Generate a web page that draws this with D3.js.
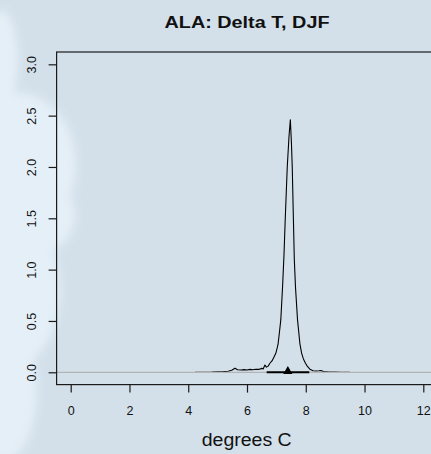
<!DOCTYPE html>
<html>
<head>
<meta charset="utf-8">
<script src="https://cdn.jsdelivr.net/npm/d3@7"></script>
<style>
  html, body { margin: 0; padding: 0; background: #d3e0ea; overflow: hidden; }
  svg { display: block; font-family: "Liberation Sans", Arial, sans-serif; }
</style>
</head>
<body>
<div id="chart"></div>
<script>
// density of delta T (DJF)
const densX = [4.23, 4.5, 4.8, 5.0, 5.2, 5.36, 5.48, 5.59, 5.68, 5.8, 5.9, 6.0, 6.1, 6.2, 6.3, 6.4, 6.5, 6.55,
  6.61, 6.66, 6.72, 6.78, 6.85, 6.92, 6.98, 7.03, 7.06, 7.1, 7.15, 7.21, 7.26, 7.30, 7.37, 7.43, 7.475,
  7.51, 7.54, 7.58, 7.61, 7.65, 7.72, 7.80, 7.86, 7.92, 7.99, 8.05, 8.14, 8.25, 8.35, 8.45, 8.52, 8.6,
  8.8, 9.0, 9.2, 9.5];
const densY = [0, 0.001, 0.002, 0.004, 0.006, 0.01, 0.02, 0.04, 0.025, 0.022, 0.026, 0.022, 0.028, 0.024, 0.03, 0.028, 0.038, 0.033,
  0.07, 0.05, 0.06, 0.088, 0.11, 0.15, 0.185, 0.24, 0.28, 0.38, 0.51, 0.83, 1.15, 1.48, 2.0, 2.3, 2.46,
  2.25, 2.0, 1.48, 1.1, 0.83, 0.51, 0.28, 0.185, 0.13, 0.088, 0.06, 0.03, 0.015, 0.012, 0.015, 0.018, 0.008,
  0.003, 0.002, 0.001, 0];

const rangeLo = 6.67;   // interval shown under the peak
const rangeHi = 8.12;
const centre = 7.39;    // triangle marker

const xTicks = [0, 2, 4, 6, 8, 10, 12];
const yTicks = [0, 0.5, 1, 1.5, 2, 2.5, 3];

const title = 'ALA: Delta T, DJF';
const xLabel = 'degrees C';

const W = 431, H = 454;
const plot = { left: 56.6, right: 437.4, top: 52, bottom: 384.6 };

const svg = d3.select('#chart').append('svg')
  .attr('width', W)
  .attr('height', H);

// background with a soft light cloud on the left
const defs = svg.append('defs');
defs.append('filter').attr('id', 'blur')
  .attr('x', '-50%').attr('y', '-50%').attr('width', '200%').attr('height', '200%')
  .append('feGaussianBlur').attr('stdDeviation', 5);

svg.append('rect').attr('width', W).attr('height', H).attr('fill', '#d3e0ea');
const cloud = svg.append('g').attr('filter', 'url(#blur)').attr('fill', '#e5eff7');
[[18, 165, 58, 72], [35, 215, 40, 40], [15, 290, 45, 75], [5, 390, 32, 70], [0, 60, 18, 50]].forEach(([cx, cy, rx, ry]) => {
  cloud.append('ellipse').attr('cx', cx).attr('cy', cy).attr('rx', rx).attr('ry', ry);
});

const x = d3.scaleLinear().domain([-0.48, 12.48]).range([plot.left, plot.right]);
const y = d3.scaleLinear().domain([-0.12, 3.12]).range([plot.bottom, plot.top]);

// density curve
const pts = densX.map((v, i) => [v, densY[i]]);
svg.append('path')
  .datum(pts)
  .attr('fill', 'none')
  .attr('stroke', '#000')
  .attr('stroke-width', 1.1)
  .attr('stroke-linejoin', 'round')
  .attr('d', d3.line().x(d => x(d[0])).y(d => y(d[1])));

// zero line, drawn over the curve tails
svg.append('line')
  .attr('x1', plot.left).attr('x2', plot.right)
  .attr('y1', y(0)).attr('y2', y(0))
  .attr('stroke', '#b4b4b4').attr('stroke-width', 1.2);

// interval segment and marker
svg.append('line')
  .attr('x1', x(rangeLo)).attr('x2', x(rangeHi))
  .attr('y1', y(0)).attr('y2', y(0))
  .attr('stroke', '#000').attr('stroke-width', 2);

svg.append('path')
  .attr('d', d3.symbol().type(d3.symbolTriangle).size(36)())
  .attr('transform', `translate(${x(centre)},${y(0) - 1})`)
  .attr('fill', '#000');

// box
svg.append('rect')
  .attr('x', plot.left).attr('y', plot.top)
  .attr('width', plot.right - plot.left).attr('height', plot.bottom - plot.top)
  .attr('fill', 'none').attr('stroke', '#1a1a1a').attr('stroke-width', 1.2);

// axes
const xAxis = svg.append('g')
  .attr('transform', `translate(0,${plot.bottom})`)
  .call(d3.axisBottom(x).tickValues(xTicks).tickSize(8).tickPadding(14).tickFormat(d3.format('d')));
xAxis.select('.domain').remove();
xAxis.selectAll('line').attr('stroke', '#1a1a1a').attr('stroke-width', 1.2);
xAxis.selectAll('text').attr('font-size', 12.5).attr('fill', '#111')
  .attr('font-family', '"Liberation Sans", Arial, sans-serif');

const yAxis = svg.append('g')
  .attr('transform', `translate(${plot.left},0)`)
  .call(d3.axisLeft(y).tickValues(yTicks).tickSize(8).tickFormat(d3.format('.1f')));
yAxis.select('.domain').remove();
yAxis.selectAll('line').attr('stroke', '#1a1a1a').attr('stroke-width', 1.2);
yAxis.selectAll('text')
  .attr('font-size', 12.5).attr('fill', '#111')
  .attr('font-family', '"Liberation Sans", Arial, sans-serif')
  .attr('x', null).attr('dy', null)
  .attr('text-anchor', 'middle')
  .attr('transform', 'translate(-21,0) rotate(-90)');

// title and label
svg.append('text')
  .attr('x', 247).attr('y', 27.7)
  .attr('text-anchor', 'middle')
  .attr('font-size', 16.3).attr('font-weight', 'bold').attr('fill', '#111')
  .attr('textLength', 165).attr('lengthAdjust', 'spacingAndGlyphs')
  .text(title);

svg.append('text')
  .attr('x', 246.7).attr('y', 445.7)
  .attr('text-anchor', 'middle')
  .attr('font-size', 18).attr('fill', '#111')
  .attr('textLength', 90).attr('lengthAdjust', 'spacingAndGlyphs')
  .text(xLabel);
</script>
</body>
</html>
